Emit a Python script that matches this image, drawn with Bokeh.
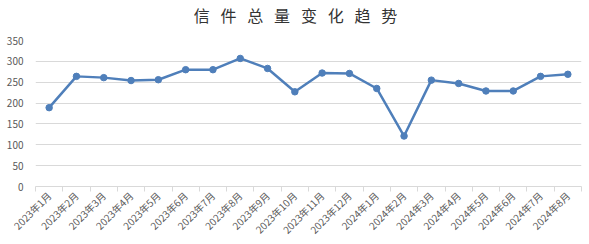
from math import pi
from bokeh.plotting import figure
from bokeh.models import Range1d, FixedTicker, ColumnDataSource, Label
from bokeh.embed import file_html
from bokeh.resources import INLINE

title_chars = ["信", "件", "总", "量", "变", "化", "趋", "势"]
months = ["2023年1月", "2023年2月", "2023年3月", "2023年4月", "2023年5月", "2023年6月",
          "2023年7月", "2023年8月", "2023年9月", "2023年10月", "2023年11月", "2023年12月",
          "2024年1月", "2024年2月", "2024年3月", "2024年4月", "2024年5月", "2024年6月",
          "2024年7月", "2024年8月"]
counts = [189, 264, 261, 254, 256, 280, 280, 307, 283, 227, 272, 271,
          235, 121, 255, 247, 229, 229, 264, 269]
y_ticks = [0, 50, 100, 150, 200, 250, 300, 350]

n = len(months)
xs = [i + 0.5 for i in range(n)]
src = ColumnDataSource(dict(x=xs, y=counts))

p = figure(width=589, height=244, x_range=Range1d(0, n), y_range=Range1d(0, 350),
           output_backend="svg", toolbar_location=None,
           min_border_left=35, min_border_right=8, min_border_top=40, min_border_bottom=56)
p.outline_line_color = None
p.background_fill_color = "white"
p.border_fill_color = "white"

title = Label(x=260, y=26, x_units="screen", y_units="screen",
              text="\u00a0\u00a0\u00a0".join(title_chars),
              text_align="center", text_baseline="middle",
              text_font="Noto Sans CJK SC", text_font_size="16px",
              text_color="#333333")
p.add_layout(title, "above")

p.line("x", "y", source=src, line_color="#4f7fba", line_width=2.5)
p.scatter("x", "y", source=src, size=6.5, fill_color="#4f7fba", line_color="#4f7fba")

# x axis
p.xaxis.ticker = FixedTicker(ticks=xs, minor_ticks=list(range(n + 1)))
p.xaxis.major_label_overrides = {x: m for x, m in zip(xs, months)}
p.xaxis.major_label_orientation = pi / 4
p.xaxis.major_tick_line_color = None
p.xaxis.major_tick_in = 0
p.xaxis.major_tick_out = 3
p.xaxis.minor_tick_line_color = "#d9d9d9"
p.xaxis.minor_tick_in = 0
p.xaxis.minor_tick_out = 5
p.xaxis.axis_line_color = "#d9d9d9"
p.xaxis.major_label_text_font = "Noto Sans CJK SC"
p.xaxis.major_label_text_font_size = "10px"
p.xaxis.major_label_text_color = "#595959"
p.xaxis.major_label_standoff = 2
p.xgrid.grid_line_color = None

# y axis
p.yaxis.ticker = FixedTicker(ticks=y_ticks)
p.yaxis.axis_line_color = None
p.yaxis.major_tick_line_color = None
p.yaxis.minor_tick_line_color = None
p.yaxis.major_label_text_font = "Noto Sans CJK SC"
p.yaxis.major_label_text_font_size = "10px"
p.yaxis.major_label_text_color = "#595959"
p.yaxis.major_label_standoff = 6
p.ygrid.grid_line_color = "#d9d9d9"
p.ygrid.grid_line_width = 1

open("out.html", "w").write(file_html(p, INLINE))
